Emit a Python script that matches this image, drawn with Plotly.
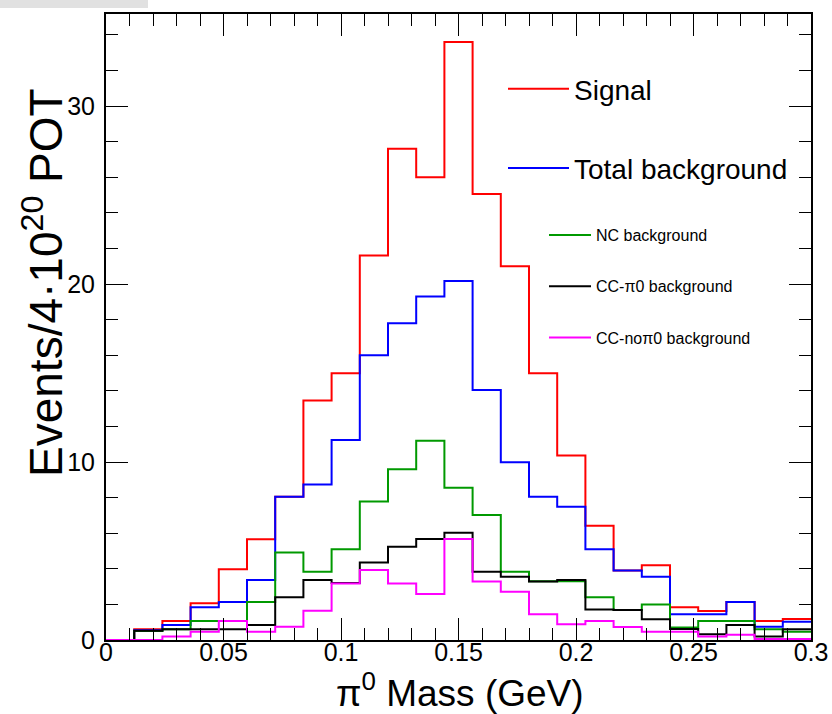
import numpy as np
import plotly.graph_objects as go

# ---------------- data ----------------
BIN_WIDTH = 0.012  # GeV, 25 bins from 0 to 0.3
signal = [0, 0.6, 1.07, 2.06, 3.97, 5.66, 8.05, 13.45, 14.98, 21.6, 27.6, 26.0, 33.6,
          25.06, 21.0, 14.98, 10.37, 6.42, 3.9, 4.2, 1.84, 1.63, 2.13, 1.07, 1.18]
total_bkg = [0, 0.55, 0.84, 1.84, 2.13, 3.37, 8.05, 8.74, 11.24, 16.0, 17.8, 19.3, 20.17,
             14.04, 9.98, 8.05, 7.49, 5.1, 3.9, 3.56, 1.44, 1.44, 2.13, 0.75, 1.03]
nc_bkg = [0, 0.5, 0.6, 1.07, 1.07, 2.13, 4.91, 3.84, 5.1, 7.78, 9.6, 11.2, 8.56,
          7.02, 3.84, 3.3, 3.3, 2.4, 1.69, 2.0, 0.7, 1.07, 1.07, 0.6, 0.47]
ccpi0_bkg = [0, 0.52, 0.6, 0.6, 0.6, 0.84, 2.4, 3.37, 3.2, 4.36, 5.24, 5.67, 6.03,
             3.84, 3.56, 3.28, 3.37, 1.72, 1.69, 1.16, 0.62, 0.32, 0.84, 0.19, 0.6]
ccnopi0_bkg = [0, 0, 0.19, 0.47, 1.07, 0.47, 0.75, 1.65, 3.18, 3.93, 3.18, 2.58, 5.67,
               3.28, 2.71, 1.44, 0.88, 1.07, 0.73, 0.47, 0.47, 0.19, 0.3, 0.05, 0.05]

series_names = ["Signal", "Total background", "NC background",
                "CC-π0 background", "CC-noπ0 background"]
series_values = [signal, total_bkg, nc_bkg, ccpi0_bkg, ccnopi0_bkg]
series_colors = ["#ff0000", "#0000ff", "#009900", "#000000", "#ff00ff"]
series_legend = ["legend", "legend", "legend2", "legend2", "legend2"]

x_tick_vals = [0, 0.05, 0.1, 0.15, 0.2, 0.25, 0.3]
x_tick_text = ["0", "0.05", "0.1", "0.15", "0.2", "0.25", "0.3"]
y_tick_vals = [0, 10, 20, 30]
x_title = "π<sup>0</sup> Mass (GeV)"
y_title = "Events/4·10<sup>20</sup> POT"

# ---------------- layout geometry ----------------
W, H = 832, 714
ML, MR, MT, MB = 106, 21, 14, 74
PW, PH = W - ML - MR, H - MT - MB


def px_x(p):
    return (p - ML) / PW


def px_y(p):
    return (H - MB - p) / PH


FONT = "Liberation Sans, Arial, Helvetica, sans-serif"

fig = go.Figure()
for name, vals, col, lg in zip(series_names, series_values, series_colors, series_legend):
    n = len(vals)
    edges = np.arange(n + 1) * BIN_WIDTH
    yv = list(vals) + [vals[-1]]
    fig.add_trace(go.Scatter(
        x=edges, y=yv, mode="lines", name=name,
        line=dict(color=col, width=2, shape="hv"),
        legend=lg, legendgroup=name, hoverinfo="skip",
    ))

axis_common = dict(
    showline=True, linecolor="black", linewidth=2, mirror="allticks",
    ticks="inside", tickcolor="black", tickwidth=1,
    showgrid=False, zeroline=False, automargin=False,
    tickfont=dict(family=FONT, size=25, color="black"),
)

fig.update_layout(
    width=W, height=H,
    margin=dict(l=ML, r=MR, t=MT, b=MB, pad=0, autoexpand=False),
    paper_bgcolor="white", plot_bgcolor="white",
    xaxis=dict(
        range=[0, 0.3], tickvals=x_tick_vals, ticktext=x_tick_text, ticklen=22,
        ticklabelstandoff=-11,
        minor=dict(dtick=0.01, ticklen=12, ticks="inside", tickcolor="black", tickwidth=1),
        **axis_common,
    ),
    yaxis=dict(
        range=[0, 35.17], tickvals=y_tick_vals, ticklen=22, ticklabelstandoff=4,
        minor=dict(dtick=2, ticklen=12, ticks="inside", tickcolor="black", tickwidth=1),
        **axis_common,
    ),
    showlegend=True,
    legend=dict(
        x=px_x(503), y=px_y(64), xanchor="left", yanchor="top",
        font=dict(family=FONT, size=28, color="black"),
        bgcolor="rgba(0,0,0,0)", borderwidth=0, tracegroupgap=40, itemwidth=61,
    ),
    legend2=dict(
        x=px_x(544), y=px_y(218), xanchor="left", yanchor="top",
        font=dict(family=FONT, size=16, color="black"),
        bgcolor="rgba(0,0,0,0)", borderwidth=0, tracegroupgap=27.5, itemwidth=42,
    ),
)

# axis titles (ROOT style: y title right-aligned toward the top of the axis)
fig.add_annotation(
    text=y_title, textangle=-90, showarrow=False,
    xref="paper", yref="paper", x=px_x(43), y=px_y(283),
    xanchor="center", yanchor="middle",
    font=dict(family=FONT, size=46, color="black"),
)
fig.add_annotation(
    text=x_title, showarrow=False,
    xref="paper", yref="paper", x=px_x(460), y=px_y(690),
    xanchor="center", yanchor="middle",
    font=dict(family=FONT, size=37, color="black"),
)

# faint screenshot shadow in the top-left corner
fig.add_shape(type="rect", xref="paper", yref="paper",
              x0=px_x(0), x1=px_x(148), y0=px_y(8), y1=px_y(0),
              fillcolor="rgba(170,170,170,0.35)", line=dict(width=0), layer="below")

fig.write_html("out.html")
